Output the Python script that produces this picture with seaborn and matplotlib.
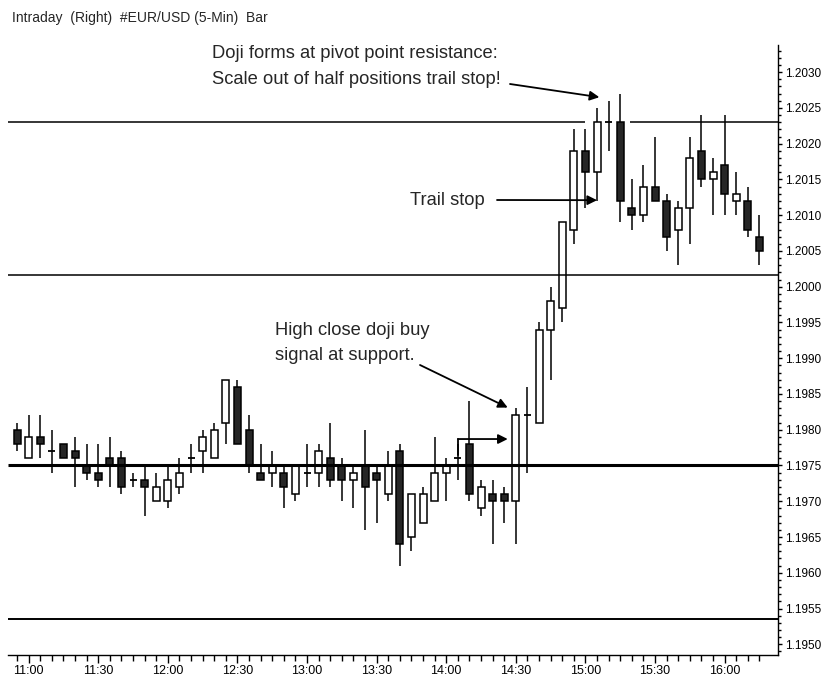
import numpy as np
import pandas as pd
import matplotlib
matplotlib.use('Agg')
import matplotlib.pyplot as plt
import seaborn as sns
from matplotlib.ticker import FixedLocator, MultipleLocator, FuncFormatter

# 5-min bars, 10:55 .. 16:15
times = pd.date_range('2024-01-01 10:55', '2024-01-01 16:15', freq='5min').strftime('%H:%M').tolist()

opens = [1.1980, 1.1976, 1.1979, 1.1977, 1.1978, 1.1977, 1.1975, 1.1974, 1.1976, 1.1976,
         1.1973, 1.1973, 1.1970, 1.1970, 1.1972, 1.1976, 1.1977, 1.1976, 1.1981, 1.1986,
         1.1980, 1.1974, 1.1974, 1.1974, 1.1971, 1.1974, 1.1974, 1.1976, 1.1975, 1.1973,
         1.1975, 1.1974, 1.1971, 1.1977, 1.1965, 1.1967, 1.1970, 1.1974, 1.1976, 1.1978,
         1.1969, 1.1971, 1.1971, 1.1970, 1.1982, 1.1981, 1.1994, 1.1997, 1.2008, 1.2019,
         1.2016, 1.2023, 1.2023, 1.2011, 1.2010, 1.2014, 1.2012, 1.2008, 1.2011, 1.2019,
         1.2015, 1.2017, 1.2012, 1.2012, 1.2007]
highs = [1.1981, 1.1982, 1.1982, 1.1980, 1.1978, 1.1979, 1.1978, 1.1978, 1.1979, 1.1977,
         1.1974, 1.1975, 1.1974, 1.1975, 1.1976, 1.1978, 1.1980, 1.1981, 1.1987, 1.1987,
         1.1982, 1.1978, 1.1977, 1.1975, 1.1975, 1.1978, 1.1978, 1.1981, 1.1976, 1.1975,
         1.1980, 1.1975, 1.1977, 1.1978, 1.1971, 1.1972, 1.1979, 1.1976, 1.1978, 1.1984,
         1.1973, 1.1973, 1.1972, 1.1983, 1.1986, 1.1995, 1.2000, 1.2009, 1.2022, 1.2022,
         1.2025, 1.2026, 1.2027, 1.2015, 1.2017, 1.2021, 1.2013, 1.2012, 1.2021, 1.2024,
         1.2018, 1.2024, 1.2016, 1.2014, 1.2010]
lows = [1.1977, 1.1976, 1.1976, 1.1974, 1.1976, 1.1972, 1.1973, 1.1972, 1.1972, 1.1971,
        1.1972, 1.1968, 1.1970, 1.1969, 1.1971, 1.1974, 1.1974, 1.1976, 1.1978, 1.1978,
        1.1974, 1.1973, 1.1972, 1.1969, 1.1970, 1.1972, 1.1972, 1.1972, 1.1970, 1.1969,
        1.1966, 1.1967, 1.1970, 1.1961, 1.1963, 1.1967, 1.1970, 1.1970, 1.1973, 1.1970,
        1.1968, 1.1964, 1.1967, 1.1964, 1.1974, 1.1981, 1.1987, 1.1995, 1.2006, 1.2011,
        1.2012, 1.2019, 1.2009, 1.2008, 1.2009, 1.2012, 1.2005, 1.2003, 1.2006, 1.2014,
        1.2010, 1.2010, 1.2010, 1.2007, 1.2003]
closes = [1.1978, 1.1979, 1.1978, 1.1977, 1.1976, 1.1976, 1.1974, 1.1973, 1.1975, 1.1972,
          1.1973, 1.1972, 1.1972, 1.1973, 1.1974, 1.1976, 1.1979, 1.1980, 1.1987, 1.1978,
          1.1975, 1.1973, 1.1975, 1.1972, 1.1975, 1.1974, 1.1977, 1.1973, 1.1973, 1.1974,
          1.1972, 1.1973, 1.1975, 1.1964, 1.1971, 1.1971, 1.1974, 1.1975, 1.1976, 1.1971,
          1.1972, 1.1970, 1.1970, 1.1982, 1.1982, 1.1994, 1.1998, 1.2009, 1.2019, 1.2016,
          1.2023, 1.2023, 1.2012, 1.2010, 1.2014, 1.2012, 1.2007, 1.2011, 1.2018, 1.2015,
          1.2016, 1.2013, 1.2013, 1.2008, 1.2005]

resistance = 1.2023
pivot = 1.20017
support = 1.1975
support2 = 1.19536

tick_labels = ['11:00', '11:30', '12:00', '12:30', '13:00', '13:30',
               '14:00', '14:30', '15:00', '15:30', '16:00']

df = pd.DataFrame({'time': times, 'open': opens, 'high': highs, 'low': lows, 'close': closes})
df['i'] = np.arange(len(df))
up = df[df.close > df.open]
dn = df[df.close < df.open]
dj = df[df.close == df.open]

sns.set_style('white')
plt.rcParams['font.family'] = ['Liberation Sans', 'DejaVu Sans']

W, H = 824, 679
fig = plt.figure(figsize=(W / 100, H / 100), dpi=100)
ax = fig.add_axes([8 / W, 1 - 655 / H, (778 - 8) / W, (655 - 45) / H])

def px(x, y):
    return (x / W, 1 - y / H)

bw = 0.6
ax.vlines(df.i, df.low, df.high, color='black', lw=1.1, zorder=2)
ax.bar(up.i, up.close - up.open, bottom=up.open, width=bw, color='white',
       edgecolor='black', lw=1.1, zorder=3)
ax.bar(dn.i, dn.open - dn.close, bottom=dn.close, width=bw, color='#262626',
       edgecolor='black', lw=1.1, zorder=3)
ax.hlines(dj.close, dj.i - bw / 2, dj.i + bw / 2, color='black', lw=1.3, zorder=3)

x0, x1 = -0.78, 65.6
ax.hlines(resistance, x0, 48.97, color='black', lw=1.1, zorder=4)
ax.hlines(resistance, 52.8, x1, color='black', lw=1.1, zorder=4)
ax.hlines(pivot, x0, x1, color='black', lw=1.1, zorder=4)
ax.hlines(support, x0, x1, color='black', lw=2.2, zorder=4)
ax.hlines(support2, x0, x1, color='black', lw=1.4, zorder=4)

ax.set_xlim(x0, x1)
ax.set_ylim(1.19485, 1.20338)

sns.despine(ax=ax, left=True, top=True, right=False, bottom=False)
for s in ['right', 'bottom']:
    ax.spines[s].set_color('black')
    ax.spines[s].set_linewidth(1.0)

ax.yaxis.tick_right()
ax.yaxis.set_major_locator(FixedLocator(np.round(np.arange(1.1950, 1.20301, 0.0005), 4)))
ax.yaxis.set_minor_locator(MultipleLocator(0.0001))
ax.yaxis.set_major_formatter(FuncFormatter(lambda v, p: f'{v:.4f}'))
major_idx = [times.index(t) for t in tick_labels]
ax.set_xticks(major_idx)
ax.set_xticklabels(tick_labels)
ax.xaxis.set_minor_locator(FixedLocator(df.i))
ax.tick_params(axis='y', which='major', right=True, left=False, direction='out',
               length=3, width=1, labelsize=8.5, pad=2, colors='black')
ax.tick_params(axis='y', which='minor', right=True, left=False, direction='out',
               length=2, width=1, colors='black')
ax.tick_params(axis='x', which='major', bottom=True, direction='out',
               length=6, width=1, labelsize=9, pad=1, colors='black')
ax.tick_params(axis='x', which='minor', bottom=True, direction='out',
               length=4, width=1, colors='black')

fig.text(*px(12, 18), 'Intraday  (Right)  #EUR/USD (5-Min)  Bar', fontsize=10,
         ha='left', va='center')

fs = 13.2
fig.text(*px(212, 53), 'Doji forms at pivot point resistance:', fontsize=fs, ha='left', va='center')
fig.text(*px(212, 80), 'Scale out of half positions trail stop!', fontsize=fs, ha='left', va='center')
fig.text(*px(410, 200), 'Trail stop', fontsize=fs, ha='left', va='center')
fig.text(*px(275, 330), 'High close doji buy', fontsize=fs, ha='left', va='center')
fig.text(*px(275, 355), 'signal at support.', fontsize=fs, ha='left', va='center')

arrow = dict(arrowstyle='-|>', color='black', lw=1.3, mutation_scale=14, shrinkA=0, shrinkB=0)
ax.annotate('', xy=(50.2, 1.20265), xytext=px(510, 84), textcoords='figure fraction', arrowprops=arrow)
ax.annotate('', xy=(50.0, 1.20121), xytext=px(497, 200), textcoords='figure fraction', arrowprops=arrow)
ax.annotate('', xy=(42.3, 1.19831), xytext=px(420, 365), textcoords='figure fraction', arrowprops=arrow)
ax.plot([38, 38], [1.19764, 1.19787], color='black', lw=1.3, zorder=5)
ax.annotate('', xy=(42.3, 1.19787), xytext=(38, 1.19787), arrowprops=arrow)

fig.savefig('out.png', dpi=100)
